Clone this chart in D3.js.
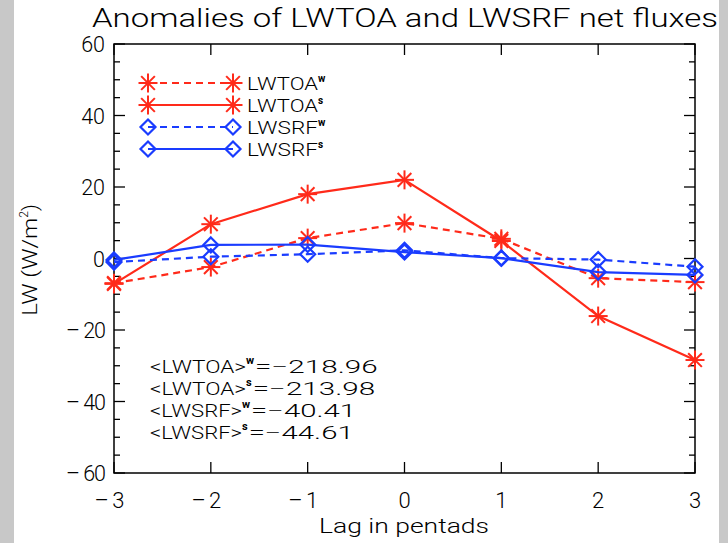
<!DOCTYPE html>
<html><head><meta charset="utf-8">
<script src="https://cdn.jsdelivr.net/npm/d3@7"></script>
<style>body{margin:0;background:#fff}svg{display:block}text{font-family:Roboto,"Liberation Sans",sans-serif;font-weight:300;fill:#000}</style>
</head><body><svg id="c" width="728" height="543"></svg>
<script>
const lags = [-3,-2,-1,0,1,2,3];
const lwtoaW = [-6.9,-2.4,5.7,9.9,5.5,-5.5,-6.6];
const lwtoaS = [-7.1,9.6,18.0,22.0,4.9,-16.1,-28.4];
const lwsrfW = [-1.0,0.5,1.2,2.3,0.1,-0.3,-2.3];
const lwsrfS = [-0.4,3.8,3.9,1.8,0.1,-3.8,-4.6];
const xTicks = [-3,-2,-1,0,1,2,3];
const yTicks = [-60,-40,-20,0,20,40,60];
const means = [["LWTOA","w","−218.96"],["LWTOA","s","−213.98"],["LWSRF","w","−40.41"],["LWSRF","s","−44.61"]];

const RED="#ff2a1a", BLUE="#1a3cff";
const svg=d3.select("#c");
svg.append("rect").attr("width",728).attr("height",543).attr("fill","#c8c8c8");
svg.append("rect").attr("x",14).attr("width",705).attr("height",543).attr("fill","#fff");

const L=114,R=695,T=44,B=473;
const x=d3.scaleLinear().domain([-3,3]).range([L,R]);
const y=d3.scaleLinear().domain([-60,60]).range([B,T]);

const g=svg.append("g");
g.append("rect").attr("x",L).attr("y",T).attr("width",R-L).attr("height",B-T).attr("fill","none").attr("stroke","#000").attr("stroke-width",1.5);
d3.range(-60,61,5).forEach(v=>{
  const len = v%20===0?11:6;
  g.append("line").attr("x1",L).attr("x2",L+len).attr("y1",y(v)).attr("y2",y(v)).attr("stroke","#000").attr("stroke-width",1.3);
  g.append("line").attr("x1",R).attr("x2",R-len).attr("y1",y(v)).attr("y2",y(v)).attr("stroke","#000").attr("stroke-width",1.3);
});
xTicks.forEach(v=>{
  g.append("line").attr("x1",x(v)).attr("x2",x(v)).attr("y1",B).attr("y2",B-11).attr("stroke","#000").attr("stroke-width",1.3);
  g.append("line").attr("x1",x(v)).attr("x2",x(v)).attr("y1",T).attr("y2",T+11).attr("stroke","#000").attr("stroke-width",1.3);
});
const fmt=v=>v<0?"– "+(-v):String(v);
yTicks.forEach(v=>{
  g.append("text").attr("x",L-9).attr("y",y(v)+8).attr("text-anchor","end").attr("font-size",21.5).attr("letter-spacing",v<0?-1:0).text(fmt(v));
});
xTicks.forEach(v=>{
  g.append("text").attr("x",x(v)-(v<0?5:0)).attr("y",508).attr("text-anchor","middle").attr("font-size",22).attr("letter-spacing",v<0?-1:0).text(fmt(v));
});
svg.append("text").attr("x",404).attr("y",533).attr("text-anchor","middle").attr("font-size",21).attr("textLength",170).attr("lengthAdjust","spacingAndGlyphs").text("Lag in pentads");
const yl=svg.append("text").attr("transform","translate(37,260) rotate(-90)").attr("text-anchor","middle").attr("font-size",21);
yl.append("tspan").attr("textLength",98).attr("lengthAdjust","spacingAndGlyphs").text("LW (W/m");
yl.append("tspan").attr("font-size",12).attr("dy",-9).text("2");
yl.append("tspan").attr("dy",9).text(")");
svg.append("text").attr("x",92).attr("y",27).attr("font-size",26).attr("textLength",626).attr("lengthAdjust","spacingAndGlyphs").text("Anomalies of LWTOA and LWSRF net fluxes");

function star(sel,cx,cy,c){
  const r=9.5;
  [[0,-r],[r,0],[r*0.72,-r*0.72],[r*0.72,r*0.72]].forEach(([dx,dy])=>{
    sel.append("line").attr("x1",cx-dx).attr("y1",cy-dy).attr("x2",cx+dx).attr("y2",cy+dy).attr("stroke",c).attr("stroke-width",2);
  });
}
function diamond(sel,cx,cy,c){
  const r=7.5;
  sel.append("path").attr("d",`M${cx},${cy-r}L${cx+r},${cy}L${cx},${cy+r}L${cx-r},${cy}Z`).attr("fill","none").attr("stroke",c).attr("stroke-width",2.2);
}
const series=[
  {v:lwtoaW,c:RED,dash:"7,5",m:star},
  {v:lwtoaS,c:RED,dash:null,m:star},
  {v:lwsrfW,c:BLUE,dash:"7,5",m:diamond},
  {v:lwsrfS,c:BLUE,dash:null,m:diamond}
];
const line=d3.line().x((d,i)=>x(lags[i])).y(d=>y(d));
const dg=svg.append("g");
series.forEach(s=>{
  dg.append("path").attr("d",line(s.v)).attr("fill","none").attr("stroke",s.c).attr("stroke-width",2.2).attr("stroke-dasharray",s.dash);
  s.v.forEach((d,i)=>s.m(dg,x(lags[i]),y(d),s.c));
});

const names=[["LWTOA","w"],["LWTOA","s"],["LWSRF","w"],["LWSRF","s"]];
const lg=svg.append("g");
series.forEach((s,i)=>{
  const ly=83+i*22;
  lg.append("line").attr("x1",148).attr("x2",233).attr("y1",ly).attr("y2",ly).attr("stroke",s.c).attr("stroke-width",2.2).attr("stroke-dasharray",s.dash);
  s.m(lg,148,ly,s.c); s.m(lg,233,ly,s.c);
  const t=lg.append("text").attr("x",247).attr("y",ly+7).attr("font-size",18.5);
  t.append("tspan").attr("textLength",71).attr("lengthAdjust","spacingAndGlyphs").text(names[i][0]);
  t.append("tspan").attr("font-size",10).attr("font-weight","bold").attr("dy",-8).text(names[i][1]);
});

means.forEach((m,i)=>{
  const t=svg.append("text").attr("x",150).attr("y",373+i*22).attr("font-size",19);
  t.append("tspan").attr("textLength",m[0]==="LWTOA"?96:92).attr("lengthAdjust","spacingAndGlyphs").text("<"+m[0]+">");
  t.append("tspan").attr("font-size",11).attr("font-weight","bold").attr("dy",-9).text(m[1]);
  t.append("tspan").attr("dy",9).attr("dx",1).attr("textLength",m[2].length*17.5).attr("lengthAdjust","spacingAndGlyphs").text("="+m[2]);
});
</script></body></html>
